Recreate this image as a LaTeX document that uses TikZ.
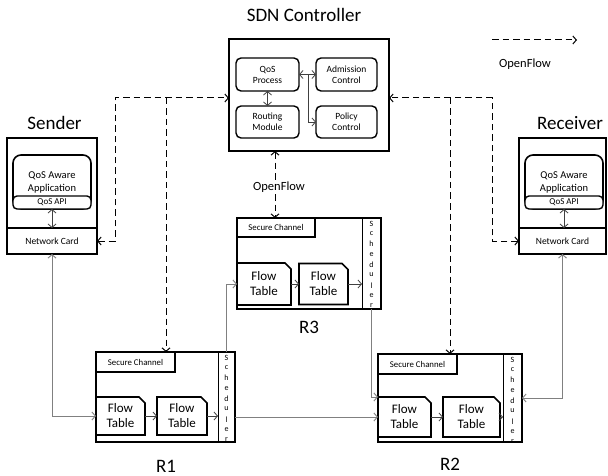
\documentclass[tikz,border=0pt]{standalone}
\usepackage{fontspec}
\setmainfont{Carlito}
\usetikzlibrary{arrows.meta}

\newcommand{\schedlabel}[1]{%
  \begin{scope}
    \clip (#1.north west) rectangle (#1.south east);
    \foreach \c [count=\i from 0] in {S,c,h,e,d,u,l,e,r}
      \node[font=\fontsize{8}{9}\selectfont] at ([yshift={-(5.5+\i*10.3)*1pt}]#1.north) {\c};
  \end{scope}}

\newcommand{\flowshape}[1]{%
  \draw[ftline] (#1.south west) -- (#1.north west) -- ([xshift=-6pt]#1.north east)
    -- ([yshift=-6pt]#1.north east) -- (#1.south east) -- cycle;}

\begin{document}
\begin{tikzpicture}[x=1pt,y=-1pt,
  >={Straight Barb[length=3.5pt,width=8pt]},
  every node/.style={inner sep=0pt,outer sep=0pt},
  heavy/.style={draw,line width=1.6pt,fill=white},
  modbox/.style={draw,line width=1.4pt,rounded corners=5pt,align=center,
    font=\fontsize{9.5}{11}\selectfont},
  appbox/.style={draw,line width=1.6pt,rounded corners=8pt,align=center,
    minimum width=78pt,minimum height=54pt,font=\fontsize{10.5}{13}\selectfont},
  apibox/.style={draw,line width=1.4pt,rounded corners=4pt,fill=white,
    minimum width=78pt,minimum height=13pt,font=\fontsize{9}{10}\selectfont},
  cardbox/.style={draw,line width=1.6pt,fill=white,font=\fontsize{9.5}{11}\selectfont},
  chan/.style={draw,line width=1.3pt,fill=white,font=\fontsize{8.8}{10}\selectfont},
  sched/.style={draw,line width=1pt},
  ftab/.style={align=center,font=\fontsize{13}{15}\selectfont},
  ftline/.style={line width=1.6pt},
  ofline/.style={dash pattern=on 6.5pt off 4pt,line width=1pt},
  wire/.style={draw=gray,line width=0.9pt},
  link/.style={line width=0.8pt,draw=black!75},
  heading/.style={font=\fontsize{19}{22}\selectfont},
  caption/.style={font=\fontsize{12.5}{14}\selectfont},
]
\useasboundingbox (0,0) rectangle (608,476);

% ---------------- controller ----------------
\node[heading] (ctrltitle) at (304,15) {SDN Controller};
\node[heavy,minimum width=160pt,minimum height=112pt] (ctrl) at (309,95) {};
\node[modbox,minimum width=63pt,minimum height=33pt] (qos) at (267.5,74.5) {QoS\\Process};
\node[modbox,minimum width=61pt,minimum height=33pt] (adm) at (346.5,74.5) {Admission\\Control};
\node[modbox,minimum width=63pt,minimum height=32pt] (rout) at (267.5,122) {Routing\\Module};
\node[modbox,minimum width=61pt,minimum height=32pt] (pol) at (346.5,122) {Policy\\Control};
\draw[link,<->] (qos) -- (rout);
\draw[link,<->] (qos) -- (adm);
\coordinate (split) at (308,74.5);
\draw[link,->] (split) |- (pol.west);

% ---------------- sender ----------------
\node[heading] (sndlabel) at (54.5,123) {Sender};
\node[heavy,minimum width=90pt,minimum height=116pt] (snd) at (52,196) {};
\node[cardbox,minimum width=90pt,minimum height=26pt] (sndcard) at (52,241) {Network Card};
\node[appbox] (sndapp) at (52,182) {QoS Aware\\Application};
\node[apibox] (sndapi) at (52,202.5) {QoS API};
\draw[link,<->] (sndapi.south) -- (sndcard.north);

% ---------------- receiver ----------------
\node[heading] (rcvlabel) at (570,123) {Receiver};
\node[heavy,minimum width=87pt,minimum height=116pt] (rcv) at (562.5,196) {};
\node[cardbox,minimum width=87pt,minimum height=26pt] (rcvcard) at (562.5,241) {Network Card};
\node[appbox] (rcvapp) at (564,182) {QoS Aware\\Application};
\node[apibox] (rcvapi) at (564,202.5) {QoS API};
\draw[link,<->] (rcvapi.south) -- (rcvapi.south |- rcvcard.north);

% ---------------- router R3 ----------------
\node[heavy,minimum width=144pt,minimum height=91pt] (r3) at (309,263.5) {};
\node[chan,minimum width=78pt,minimum height=19pt] (r3sc) at (276,227.5) {Secure Channel};
\node[sched,minimum width=19pt,minimum height=91pt] (r3sch) at (371.5,263.5) {};
\node[ftab,minimum width=54pt,minimum height=42pt] (r3ft1) at (264,284) {Flow\\Table};
\node[ftab,minimum width=49pt,minimum height=41pt] (r3ft2) at (323.5,284) {Flow\\Table};
\flowshape{r3ft1}\flowshape{r3ft2}
\schedlabel{r3sch}
\draw[link,->] (r3ft1) -- (r3ft2);
\draw[link,->] (r3ft2.east) -- (r3ft2.east -| r3sch.west);
\node[heading] (r3label) at (309,327) {R3};

% ---------------- router R1 ----------------
\node[heavy,minimum width=139pt,minimum height=90pt] (r1) at (165.5,397) {};
\node[chan,minimum width=79pt,minimum height=20pt] (r1sc) at (135.5,362) {Secure Channel};
\node[sched,minimum width=17pt,minimum height=90pt] (r1sch) at (226.5,397) {};
\node[ftab,minimum width=49pt,minimum height=38pt] (r1ft1) at (120.5,416) {Flow\\Table};
\node[ftab,minimum width=50pt,minimum height=38pt] (r1ft2) at (182,416) {Flow\\Table};
\flowshape{r1ft1}\flowshape{r1ft2}
\schedlabel{r1sch}
\draw[link,->] (r1ft1) -- (r1ft2);
\draw[link,->] (r1ft2.east) -- (r1ft2.east -| r1sch.west);
\node[heading] (r1label) at (166,466) {R1};

% ---------------- router R2 ----------------
\node[heavy,minimum width=144pt,minimum height=88pt] (r2) at (450,398) {};
\node[chan,minimum width=79pt,minimum height=20pt] (r2sc) at (417.5,364) {Secure Channel};
\node[sched,minimum width=19pt,minimum height=88pt] (r2sch) at (512.5,398) {};
\node[ftab,minimum width=53pt,minimum height=40pt] (r2ft1) at (404.5,417) {Flow\\Table};
\node[ftab,minimum width=57pt,minimum height=40pt] (r2ft2) at (471.5,417) {Flow\\Table};
\flowshape{r2ft1}\flowshape{r2ft2}
\schedlabel{r2sch}
\draw[link,->] (r2ft1) -- (r2ft2);
\draw[link,->] (r2ft2.east) -- (r2ft2.east -| r2sch.west);
\node[heading] (r2label) at (450,464) {R2};

% ---------------- data path ----------------
\draw[wire,<->] (sndcard.south) |- (r1ft1.west);
\draw[wire,->] (r1sch.north) |- (r3ft1.west);
\draw[wire,->] (r1sch.east |- r2ft1.west) -- (r2ft1.west);
\draw[wire,->] (r3sch.south) |- (r2ft1.north west);
\draw[wire,<->] (rcvcard.south) |- (r2sch.east);

% ---------------- OpenFlow control channels ----------------
\coordinate (lA) at (115,98);
\coordinate (lB) at (166,98);
\coordinate (rA) at (492,98);
\coordinate (rB) at (450,98);
\coordinate (ofx) at (275,0);
\draw[ofline,<->] (sndcard.east) -| (lA) -- (lA -| ctrl.west);
\draw[ofline,->] (lB) -- (lB |- r1sc.north);
\draw[ofline,<->] (rcvcard.west) -| (rA) -- (rA -| ctrl.east);
\draw[ofline,->] (rB) -- (rB |- r2sc.north);
\draw[ofline,<->] (ctrl.south -| ofx) -- (ofx |- r3sc.north);
\node[caption] (oflabel) at (279,187) {OpenFlow};

% ---------------- legend ----------------
\coordinate (legA) at (492,40);
\coordinate (legB) at (577,40);
\draw[ofline,->] (legA) -- (legB);
\node[caption] (legtxt) at (525,64) {OpenFlow};
\end{tikzpicture}
\end{document}
